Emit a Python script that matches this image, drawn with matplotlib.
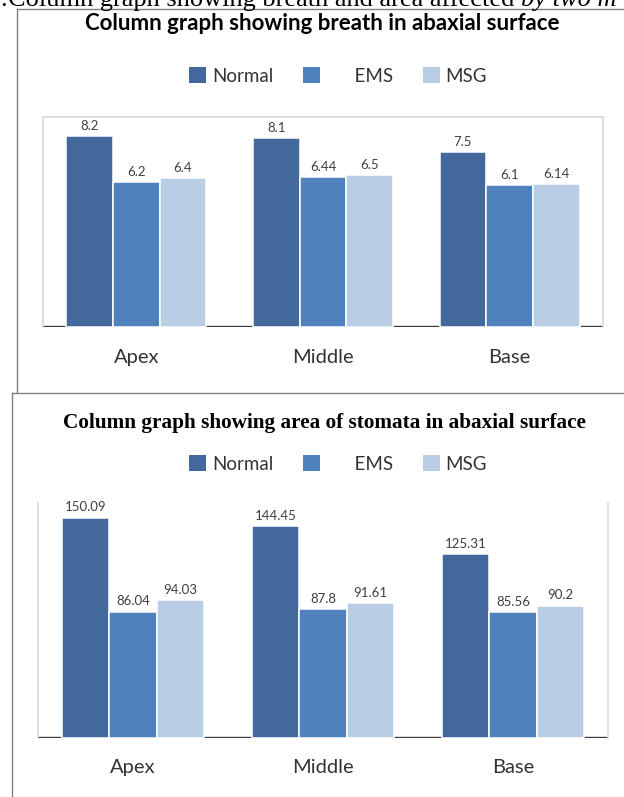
import numpy as np
import matplotlib.pyplot as plt
from matplotlib.patches import Patch
from matplotlib.lines import Line2D

# donnees
categories = ['Apex', 'Middle', 'Base']
series = ['Normal', 'EMS', 'MSG']
breath_normal = [8.2, 8.1, 7.5]
breath_ems = [6.2, 6.44, 6.1]
breath_msg = [6.4, 6.5, 6.14]
area_normal = [150.09, 144.45, 125.31]
area_ems = [86.04, 87.8, 85.56]
area_msg = [94.03, 91.61, 90.2]

couleurs = ['#43699C', '#4F81BD', '#B9CDE5']
W, H = 624, 797

plt.rcParams['font.family'] = ['Lato', 'DejaVu Sans']

fig = plt.figure(figsize=(W / 100, H / 100), dpi=100)


def fx(x):
    return x / W


def fy(y):
    return 1 - y / H


def trace(ax, valeurs, ymax, pad):
    x = np.arange(len(categories))
    ax.axhline(0, color='#3a3a3a', lw=2.4, zorder=1)
    for k, v in enumerate(valeurs):
        b = ax.bar(x + (k - 1) * 0.25, v, 0.25, color=couleurs[k],
                   edgecolor='white', lw=1.1, zorder=2)
        ax.bar_label(b, fmt='{:g}', padding=3, fontsize=9.5, color='#404040')
    ax.set_xlim(-0.5, 2.5)
    ax.set_ylim(0, ymax)
    ax.set_yticks([])
    ax.set_xticks(x, categories)
    ax.tick_params(axis='x', length=0, pad=pad, labelsize=14.5, labelcolor='#333333')
    for s in ax.spines.values():
        s.set_color('#D9D9D9')
        s.set_linewidth(1.2)
    ax.spines['bottom'].set_visible(False)


def legende(cy):
    handles = [Patch(facecolor=c) for c in couleurs]
    labels = ['Normal', '      EMS', 'MSG']
    fig.legend(handles, labels, loc='center', bbox_to_anchor=(fx(338), fy(cy)),
               ncol=3, frameon=False, fontsize=13.5, handlelength=0.9,
               handleheight=0.9, handletextpad=0.3, columnspacing=1.6,
               labelcolor='#333333')


# cadres des deux panneaux
fig.add_artist(Line2D([fx(17), fx(17)], [fy(9), fy(393)], color='#808080', lw=1))
fig.add_artist(Line2D([fx(17), fx(624)], [fy(9), fy(9)], color='#808080', lw=1))
fig.add_artist(Line2D([fx(12), fx(12)], [fy(393), fy(797)], color='#808080', lw=1))
fig.add_artist(Line2D([fx(12), fx(624)], [fy(393), fy(393)], color='#808080', lw=1))

# legende du document, coupee en haut comme sur l'original
t1 = fig.text(fx(8), fy(6), 'Column graph showing breath and area affected ',
              family='Liberation Serif', fontsize=19, va='baseline')
fig.text(fx(0), fy(6), '.', family='Liberation Serif', fontsize=19, va='baseline')
fig.canvas.draw()
bb = t1.get_window_extent()
fig.text(bb.x1 / W, fy(6), 'by two m', family='Liberation Serif', style='italic',
         fontsize=19, va='baseline')

# graphique 1
fig.text(fx(322), fy(23), 'Column graph showing breath in abaxial surface',
         ha='center', va='center', fontsize=16, fontweight='bold')
legende(76)
ax1 = fig.add_axes([fx(43), fy(327), 560 / W, 210 / H])
trace(ax1, [breath_normal, breath_ems, breath_msg], 9, 16)

# graphique 2
fig.text(fx(324), fy(423), 'Column graph showing area of stomata in abaxial surface',
         ha='center', va='center', family='Liberation Serif', fontsize=15.3,
         fontweight='bold')
legende(464)
ax2 = fig.add_axes([fx(38), fy(738), 570 / W, 235 / H])
trace(ax2, [area_normal, area_ems, area_msg], 160, 15)
ax2.spines['top'].set_visible(False)

fig.savefig('out.png', dpi=100)
